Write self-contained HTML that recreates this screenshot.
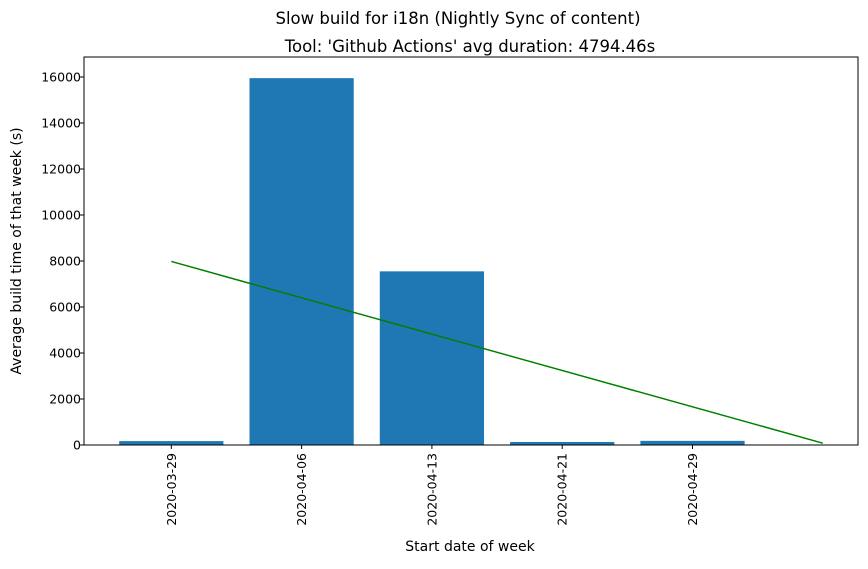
<!DOCTYPE html>
<html><head><meta charset="utf-8"><style>
body{margin:0;background:#fff;font-family:"Liberation Sans","DejaVu Sans",sans-serif;}
svg text{font-family:"DejaVu Sans","Liberation Sans",sans-serif;fill:#000;}
</style></head><body>
<svg id="chart" width="868" height="564">
<text x="458" y="24" font-size="16.5" text-anchor="middle">Slow build for i18n (Nightly Sync of content)</text>
<text x="470" y="52" font-size="16.5" text-anchor="middle">Tool: 'Github Actions' avg duration: 4794.46s</text>
<text x="470" y="551" font-size="14" text-anchor="middle">Start date of week</text>
<text x="0" y="0" font-size="14" text-anchor="middle" transform="translate(21,251) rotate(-90)">Average build time of that week (s)</text>
<g id="marks"></g>
<rect x="84" y="57" width="774" height="388" fill="none" stroke="#000" stroke-width="1"/>
</svg>
<script>
const categories=["2020-03-29","2020-04-06","2020-04-13","2020-04-21","2020-04-29"];
const durations=[170,15950,7550,130,180];
const trendStart=7980;
const trendEnd=80;
const yTicks=[0,2000,4000,6000,8000,10000,12000,14000,16000];

const L=84,R=858,T=57,B=445;
const xMin=-0.67,xMax=5.27;
const yMax=(B-T)/0.023;
const xs=i=>L+(i-xMin)/(xMax-xMin)*(R-L);
const ys=v=>B-v/yMax*(B-T);
const NS="http://www.w3.org/2000/svg";
const g=document.getElementById('marks');
function mk(t,a){const e=document.createElementNS(NS,t);for(const k in a)e.setAttribute(k,a[k]);g.appendChild(e);return e;}
const bw=0.8*(xs(1)-xs(0));
durations.forEach((v,i)=>{
  const r=mk('rect',{x:xs(i)-bw/2,y:ys(v),width:bw,height:B-ys(v),fill:'#1f77b4'});
  
  
});
const ln=mk('line',{x1:xs(0),y1:ys(trendStart),x2:xs(categories.length),y2:ys(trendEnd),stroke:'#008000','stroke-width':1.5});


yTicks.forEach(v=>{
  const y=ys(v);
  const tk=mk('line',{x1:L-4,x2:L,y1:y,y2:y,stroke:'#000'});
  
  
  const t=mk('text',{x:L-3,y:y+4.5,'font-size':12.5,'text-anchor':'end'});
  t.textContent=v;
  
  
});
categories.forEach((c,i)=>{
  const x=xs(i);
  const tk=mk('line',{x1:x,x2:x,y1:B,y2:B+4,stroke:'#000'});
  
  
  const t=mk('text',{x:0,y:0,'font-size':12.5,'text-anchor':'end',transform:`translate(${x+4.5},${B+8}) rotate(-90)`});
  t.textContent=c;
  
  
});
</script>
</body></html>
